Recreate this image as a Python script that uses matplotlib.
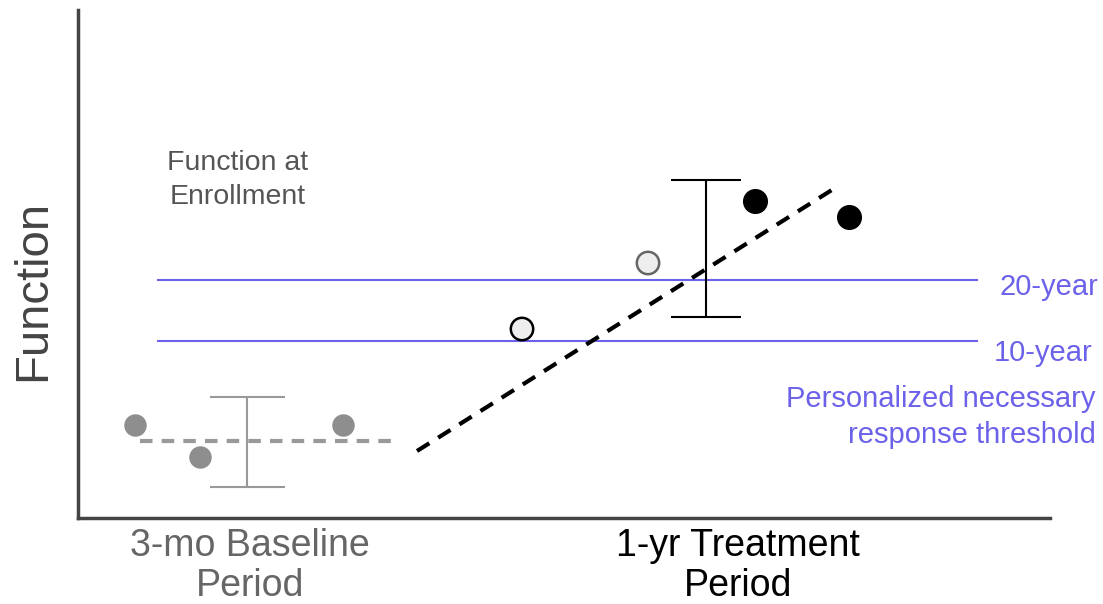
import matplotlib.pyplot as plt

plt.rcParams['font.family'] = ['Liberation Sans', 'DejaVu Sans']

# baseline period (function units, x in time units)
base_x = [57, 122, 265]
base_y = [93, 61, 93]
base_mean_x = [62, 322]
base_mean_y = [77, 77]
base_err_x = 169
base_err_lo, base_err_hi = 31, 121

# treatment period
trend_x = [339, 757]
trend_y = [67, 330]
open_x = [444, 570]
open_y = [189, 255]
open_edges = ['black', '#666666']
treat_x = [677, 771]
treat_y = [317, 301]
treat_err_x = 628
treat_err_lo, treat_err_hi = 201, 338

# thresholds
thr_y = [238, 177]
thr_labels = ['20-year', '10-year']
thr_x = [80, 899]

blue = '#6c62ea'

fig = plt.figure(figsize=(11.03, 6.04), dpi=100)
ax = fig.add_axes([78/1103, 86/604, 972/1103, 508/604])
ax.set_xlim(0, 972)
ax.set_ylim(0, 508)

for i, y in enumerate(thr_y):
    ax.plot(thr_x, [y, y], color=blue, lw=1.5)

ax.plot(base_mean_x, base_mean_y, color='#999999', lw=3, ls=(0, (3, 2.2)))
ax.errorbar(base_err_x, (base_err_lo + base_err_hi) / 2,
            yerr=(base_err_hi - base_err_lo) / 2, color='#999999',
            elinewidth=1.5, capsize=27, capthick=1.5)
ax.scatter(base_x, base_y, s=230, color='#8e8e8e', zorder=3)

ax.plot(trend_x, trend_y, color='black', lw=3, ls=(0, (3.5, 2.5)))
ax.errorbar(treat_err_x, (treat_err_lo + treat_err_hi) / 2,
            yerr=(treat_err_hi - treat_err_lo) / 2, color='black',
            elinewidth=1.5, capsize=25, capthick=1.5)
ax.scatter(open_x, open_y, s=260, facecolor='#eeeeee',
           edgecolor=open_edges, linewidth=1.8, zorder=3)
ax.scatter(treat_x, treat_y, s=290, color='black', zorder=3)

for sp in ['top', 'right']:
    ax.spines[sp].set_visible(False)
for sp in ['left', 'bottom']:
    ax.spines[sp].set_color('#444444')
    ax.spines[sp].set_linewidth(2.5)
ax.set_xticks([])
ax.set_yticks([])

fig.text(33/1103, 1 - 290/604, 'Function', rotation=90, fontsize=34,
         color='#444444', ha='center', va='center')
fig.text(238/1103, 1 - 180/604, 'Function at\nEnrollment', fontsize=20.5,
         color='#555555', ha='center', va='center', linespacing=1.38)
fig.text(250/1103, 1 - 566/604, '3-mo Baseline\nPeriod', fontsize=27,
         color='#666666', ha='center', va='center', linespacing=1.12)
fig.text(738/1103, 1 - 566/604, '1-yr Treatment\nPeriod', fontsize=27,
         color='black', ha='center', va='center', linespacing=1.12)
fig.text(1098/1103, 1 - 287/604, thr_labels[0], fontsize=21, color=blue,
         ha='right', va='center')
fig.text(1093/1103, 1 - 353/604, thr_labels[1], fontsize=21, color=blue,
         ha='right', va='center')
fig.text(1096/1103, 1 - 417/604, 'Personalized necessary\nresponse threshold',
         fontsize=21, color=blue, ha='right', va='center', linespacing=1.33)

fig.savefig('out.png', dpi=100)
